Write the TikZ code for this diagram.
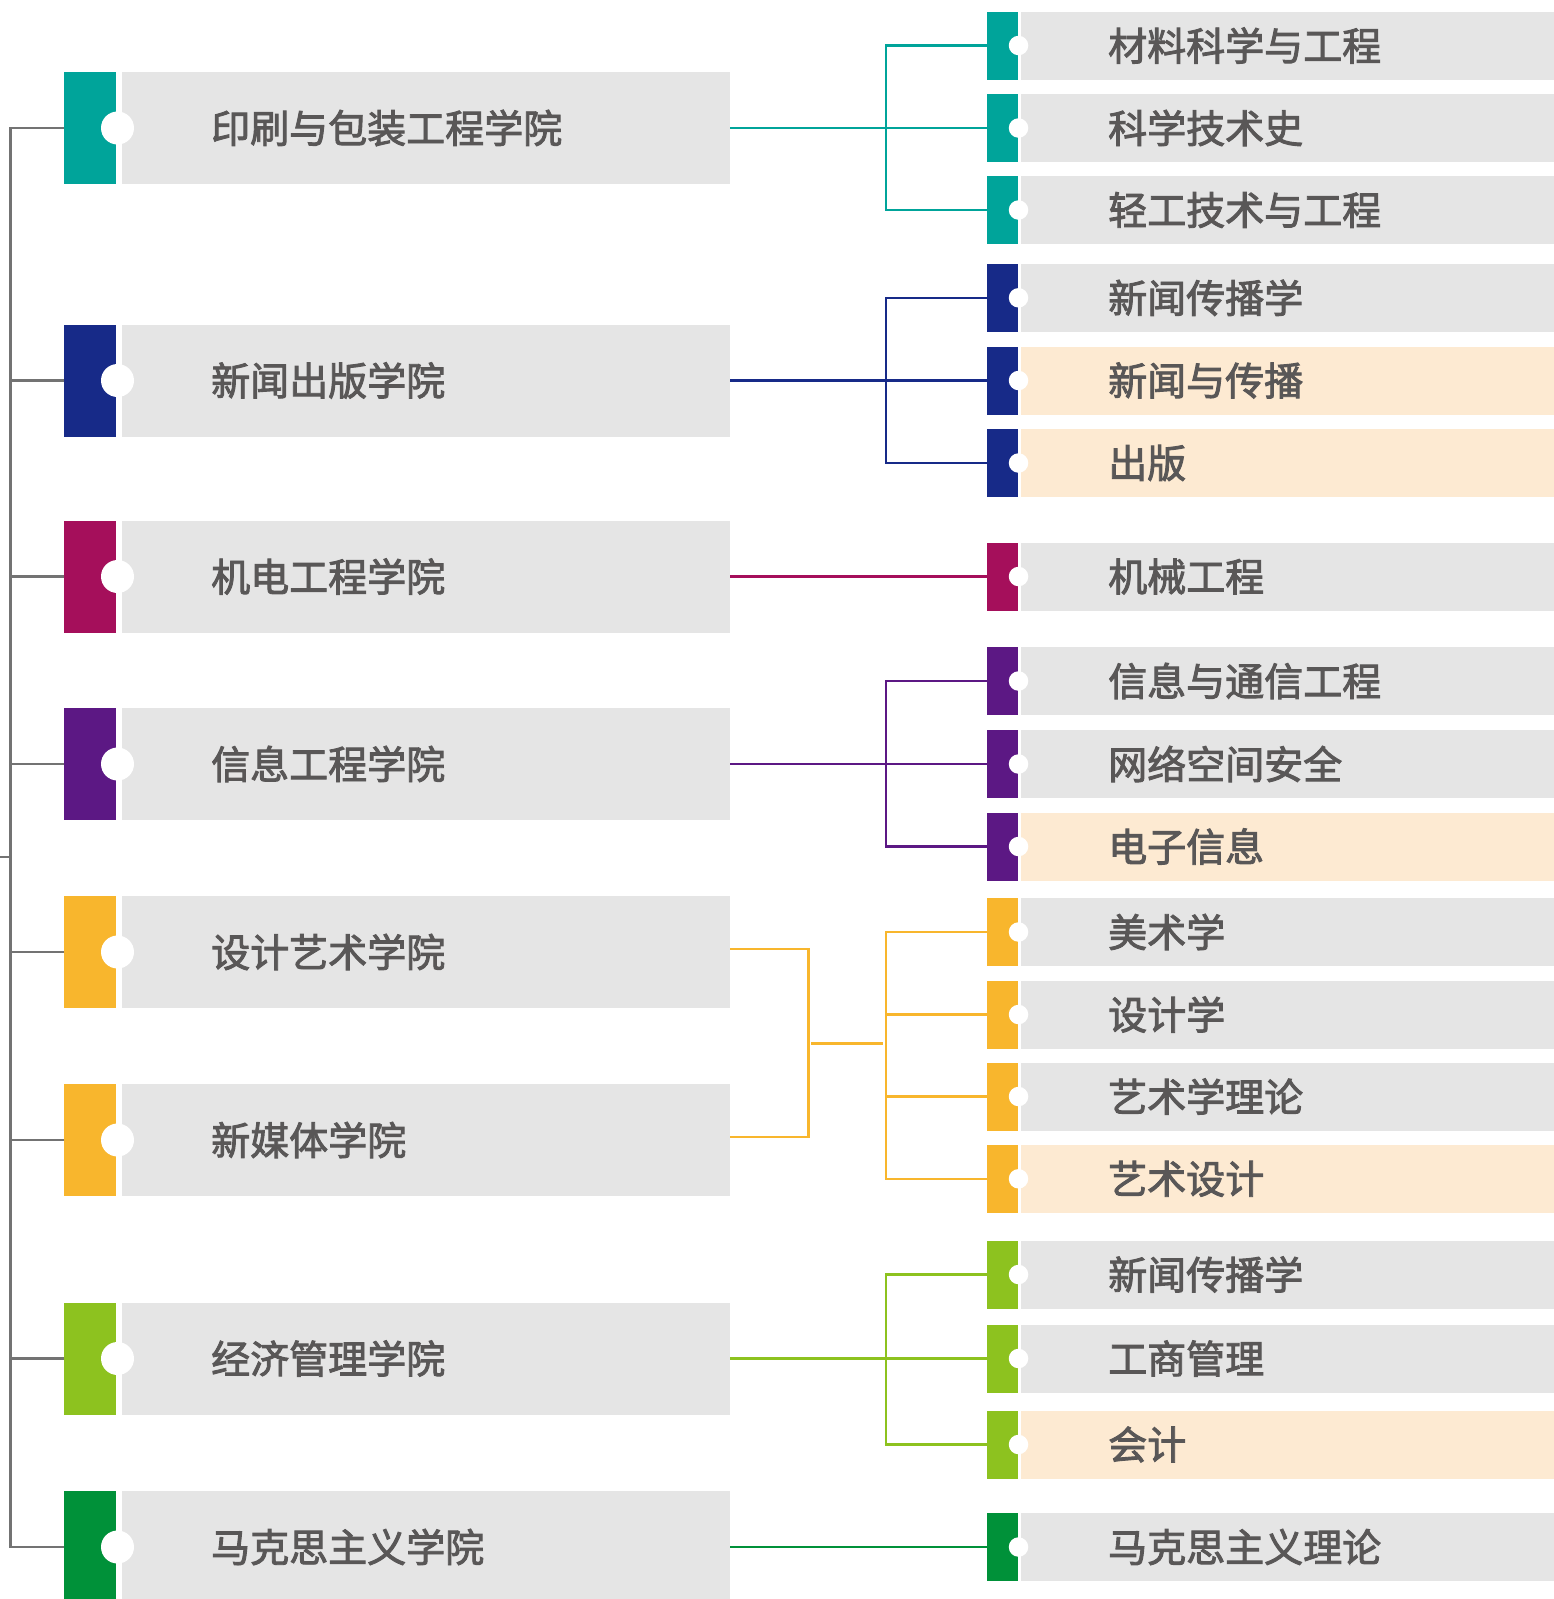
\documentclass[tikz,border=0pt]{standalone}
\usepackage{fontspec}
\newfontfamily\cjk{Noto Sans CJK SC}
\usetikzlibrary{calc}
\definecolor{cteal}{HTML}{00A49A}
\definecolor{cnavy}{HTML}{172A88}
\definecolor{cmag}{HTML}{A50F5B}
\definecolor{cpurp}{HTML}{5C1884}
\definecolor{cyel}{HTML}{F8B62D}
\definecolor{clime}{HTML}{8DC21F}
\definecolor{cgreen}{HTML}{009139}
\definecolor{boxgray}{HTML}{E5E5E5}
\definecolor{hilite}{HTML}{FDEAD2}
\definecolor{txtgray}{HTML}{595757}
\definecolor{trunkgray}{HTML}{737373}
\newcommand\heavytext[1]{\special{pdf:literal direct 2 Tr 0.9 w}#1\special{pdf:literal direct 0 Tr}}
\tikzset{
  lcol/.style={fill=#1, draw=none, minimum width=52pt, minimum height=112pt, inner sep=0pt, anchor=west},
  lbody/.style={fill=boxgray, draw=none, minimum width=608pt, minimum height=112pt, inner sep=0pt, anchor=west},
  rcol/.style={fill=#1, draw=none, minimum width=31pt, minimum height=68pt, inner sep=0pt, anchor=west},
  rbody/.style={fill=#1, draw=none, minimum width=533pt, minimum height=68pt, inner sep=0pt, anchor=west},
  txt/.style={font=\cjk\fontsize{39}{39}\selectfont, text=txtgray, anchor=west, inner sep=0pt},
  dot/.style={circle, fill=white, draw=none, inner sep=0pt, minimum size=#1},
  conn/.style={draw=#1, line width=2.4pt},
  trunk/.style={draw=trunkgray, line width=2.4pt},
}
\newcommand\LBox[4]{%
  \node[lcol=#3] (#1c) at (64,#2) {};
  \node[lbody] (#1) at (122,#2) {};
  \node[dot=33pt] (#1d) at (117.5,#2) {};
  \node[txt] (#1t) at (211,#2) {\heavytext{#4}};
}
\newcommand\RBox[5]{%
  \node[rcol=#3] (#1c) at (987,#2) {};
  \node[rbody=#4] (#1) at (1021,#2) {};
  \node[dot=19.5pt] (#1d) at (1018.5,#2) {};
  \node[txt] (#1t) at (1108,#2) {\heavytext{#5}};
}
\begin{document}
\begin{tikzpicture}[x=1pt,y=-1pt]
\useasboundingbox (0,0) rectangle (1554,1599);
% left boxes
\LBox{L1}{128}{cteal}{印刷与包装工程学院}
\LBox{L2}{380.5}{cnavy}{新闻出版学院}
\LBox{L3}{576.5}{cmag}{机电工程学院}
\LBox{L4}{764}{cpurp}{信息工程学院}
\LBox{L5}{952}{cyel}{设计艺术学院}
\LBox{L6}{1140}{cyel}{新媒体学院}
\LBox{L7}{1358.5}{clime}{经济管理学院}
\LBox{L8}{1547}{cgreen}{马克思主义学院}
% right boxes
\RBox{R1}{45.5}{cteal}{boxgray}{材料科学与工程}
\RBox{R2}{128}{cteal}{boxgray}{科学技术史}
\RBox{R3}{210}{cteal}{boxgray}{轻工技术与工程}
\RBox{R4}{297.8}{cnavy}{boxgray}{新闻传播学}
\RBox{R5}{380.5}{cnavy}{hilite}{新闻与传播}
\RBox{R6}{463}{cnavy}{hilite}{出版}
\RBox{R7}{576.5}{cmag}{boxgray}{机械工程}
\RBox{R8}{681}{cpurp}{boxgray}{信息与通信工程}
\RBox{R9}{764}{cpurp}{boxgray}{网络空间安全}
\RBox{R10}{846.5}{cpurp}{hilite}{电子信息}
\RBox{R11}{932}{cyel}{boxgray}{美术学}
\RBox{R12}{1014.5}{cyel}{boxgray}{设计学}
\RBox{R13}{1096.5}{cyel}{boxgray}{艺术学理论}
\RBox{R14}{1178.8}{cyel}{hilite}{艺术设计}
\RBox{R15}{1274.5}{clime}{boxgray}{新闻传播学}
\RBox{R16}{1358.5}{clime}{boxgray}{工商管理}
\RBox{R17}{1444.5}{clime}{hilite}{会计}
\RBox{R18}{1547}{cgreen}{boxgray}{马克思主义理论}
% trunk
\coordinate (trunkbot) at (10.5,1547);
\coordinate (tick) at (0,856.7);
\draw[trunk] (L1c.west) -| (trunkbot) -- (L8c.west);
\foreach \k in {2,...,7}{\draw[trunk] (L\k c.west) -- (L\k c.west -| trunkbot);}
\draw[trunk] (tick) -- (tick -| trunkbot);
% teal
\draw[conn=cteal] (L1.east) -- (R2c.west);
\draw[conn=cteal] (R1c.west) -- ++(-101,0) |- (R3c.west);
% navy
\draw[conn=cnavy] (L2.east) -- (R5c.west);
\draw[conn=cnavy] (R4c.west) -- ++(-101,0) |- (R6c.west);
% magenta
\draw[conn=cmag] (L3.east) -- (R7c.west);
% purple
\draw[conn=cpurp] (L4.east) -- (R9c.west);
\draw[conn=cpurp] (R8c.west) -- ++(-101,0) |- (R10c.west);
% yellow
\draw[conn=cyel] ($(L5.east)+(0,-3)$) -- ++(78,0) |- ($(L6.east)+(0,-3)$);
\coordinate (ym1) at (811,1043.3);
\coordinate (ym2) at (883,1043.3);
\draw[conn=cyel] (ym1) -- (ym2);
\draw[conn=cyel] (R11c.west) -- ++(-101,0) |- (R14c.west);
\draw[conn=cyel] (R12c.west) -- ++(-101,0);
\draw[conn=cyel] (R13c.west) -- ++(-101,0);
% lime
\draw[conn=clime] (L7.east) -- (R16c.west);
\draw[conn=clime] (R15c.west) -- ++(-101,0) |- (R17c.west);
% green
\draw[conn=cgreen] (L8.east) -- (R18c.west);
\end{tikzpicture}
\end{document}
